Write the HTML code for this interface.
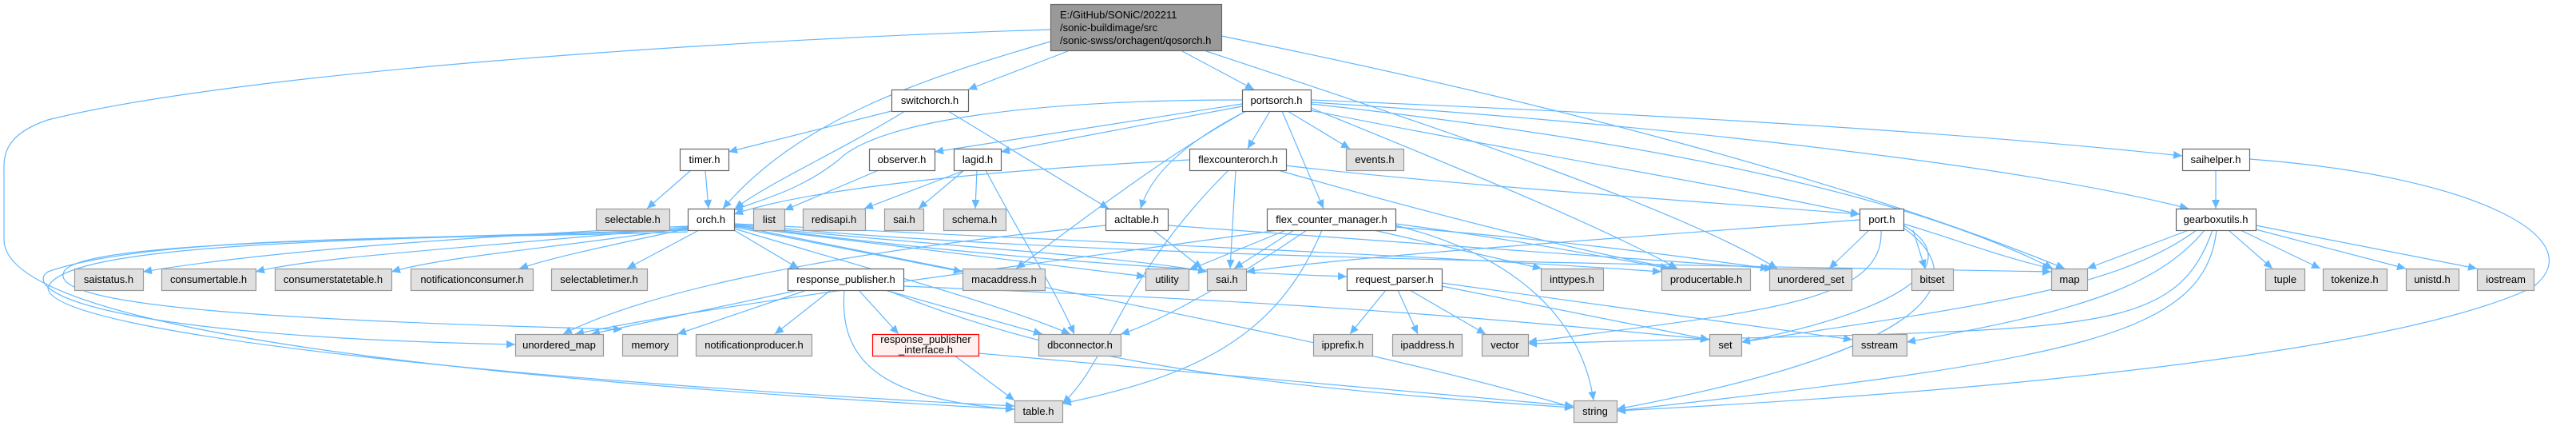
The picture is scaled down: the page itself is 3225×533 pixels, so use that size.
<!DOCTYPE html>
<html><head><meta charset="utf-8"><style>
html,body{margin:0;padding:0;background:#fff;}
svg{display:block;}
text{font-family:"Liberation Sans",sans-serif;font-size:13px;fill:#000;}
</style></head><body>
<svg width="3225" height="533" viewBox="0 0 3225 533" xmlns="http://www.w3.org/2000/svg">
<defs>
<marker id="a" markerWidth="12" markerHeight="10" refX="11" refY="5" orient="auto" markerUnits="userSpaceOnUse">
<path d="M0,0 L11,5 L0,10 z" fill="#63b8ff"/>
</marker>
</defs>
<g fill="none" stroke="#63b8ff" stroke-width="1.2" marker-end="url(#a)">
<!-- main -->
<path d="M1337,64 L1212,112"/>
<path d="M1480,64 L1570,112"/>
<path d="M1315,52 C1150,100 1000,150 905,261"/>
<path d="M1529,45 C1900,120 2300,220 2585,336"/>
<path d="M1510,64 C1800,160 2100,260 2225,336"/>
<path d="M1315,37 C900,50 300,90 60,150 C0,170 5,200 5,220 L5,300 C5,380 300,460 1270,512"/>
<!-- switchorch -->
<path d="M1116,139 L912,190"/>
<path d="M1133,139 C1050,190 960,230 920,261"/>
<path d="M1187,139 L1388,261"/>
<!-- portsorch -->
<path d="M1555,125 C1300,125 1100,150 1050,200 C1000,240 950,250 919,263"/>
<path d="M1555,130 L1170,190"/>
<path d="M1555,133 L1253,190"/>
<path d="M1590,139 L1562,186"/>
<path d="M1560,139 C1480,180 1440,220 1428,261"/>
<path d="M1560,139 C1450,200 1350,280 1272,336"/>
<path d="M1612,139 L1690,186"/>
<path d="M1605,139 L1657,261"/>
<path d="M1640,138 C1900,190 2150,230 2328,268"/>
<path d="M1641,125 C2000,140 2400,160 2732,195"/>
<path d="M1641,128 C2000,150 2500,200 2740,261"/>
<path d="M1641,130 C2100,180 2400,250 2570,336"/>
<path d="M1641,135 C1800,200 2000,280 2100,336"/>
<!-- timer/observer/lagid -->
<path d="M865,213 L810,261"/>
<path d="M883,213 L887,261"/>
<path d="M1100,213 L982,263"/>
<path d="M1208,213 L1082,261"/>
<path d="M1207,213 L1150,261"/>
<path d="M1223,213 L1221,261"/>
<path d="M1234,213 C1280,300 1320,360 1345,418"/>
<!-- flexcounterorch -->
<path d="M1489,200 C1200,215 1000,240 919,268"/>
<path d="M1538,213 C1400,350 1390,450 1330,505"/>
<path d="M1547,213 L1540,336"/>
<path d="M1609,207 C1800,230 2100,250 2328,268"/>
<path d="M1600,213 C1800,270 2000,320 2100,336"/>
<!-- acltable -->
<path d="M1384,282 C1000,320 800,370 705,418"/>
<path d="M1444,288 L1505,336"/>
<path d="M1462,282 C1700,300 2000,320 2220,336"/>
<!-- flex_counter_manager -->
<path d="M1620,288 L1545,336"/>
<path d="M1610,288 L1488,338"/>
<path d="M1636,288 C1500,380 1430,410 1403,418"/>
<path d="M1655,288 C1600,420 1500,470 1330,505"/>
<path d="M1720,288 L1930,336"/>
<path d="M1747,280 C1900,300 2000,320 2090,336"/>
<path d="M1747,284 C1950,300 2100,320 2215,336"/>
<path d="M1747,282 C1900,320 1980,400 1995,501"/>
<path d="M1600,288 C1300,330 900,380 720,418"/>
<!-- port -->
<path d="M2395,288 L2410,336"/>
<path d="M2340,288 L2290,336"/>
<path d="M2328,275 C2000,300 1700,320 1560,340"/>
<path d="M2355,288 C2360,380 2200,390 1913,428"/>
<path d="M2383,282 C2450,320 2420,380 2180,428"/>
<path d="M2383,285 C2460,340 2460,430 2024,512"/>
<path d="M2383,280 C2450,300 2500,320 2568,336"/>
<!-- gearboxutils / saihelper -->
<path d="M2774,213 L2774,261"/>
<path d="M2816,199 C3100,220 3250,300 3170,360 C3000,440 2500,490 2024,514"/>
<path d="M2740,288 L2613,336"/>
<path d="M2790,288 L2845,336"/>
<path d="M2805,288 L2905,336"/>
<path d="M2820,286 L3012,336"/>
<path d="M2824,282 L3101,336"/>
<path d="M2750,288 C2650,360 2500,380 2180,428"/>
<path d="M2760,288 C2700,360 2600,390 2387,428"/>
<path d="M2770,288 C2730,400 2650,410 2300,420 C2100,425 2000,428 1913,430"/>
<path d="M2775,288 C2760,420 2600,450 2024,514"/>
<!-- orch outgoing -->
<path d="M861,283 C500,300 300,320 179,340"/>
<path d="M861,284 C600,310 400,320 320,340"/>
<path d="M861,285 C700,310 560,320 490,340"/>
<path d="M861,286 C750,310 700,320 650,336"/>
<path d="M875,288 L785,336"/>
<path d="M919,288 L1000,336"/>
<path d="M919,284 L1205,340"/>
<path d="M919,283 L1434,346"/>
<path d="M919,282 C1200,310 1400,320 1511,340"/>
<path d="M919,281 C1200,320 1500,340 1686,346"/>
<path d="M919,280 C1300,320 2000,330 2568,340"/>
<path d="M919,280 C1300,300 1800,320 2080,340"/>
<path d="M919,286 C1100,340 1250,380 1340,418"/>
<path d="M861,290 C600,300 200,290 60,340 C30,360 100,420 645,431"/>
<path d="M861,287 C500,300 100,300 80,340 C60,380 300,400 779,412"/>
<path d="M861,288 C500,300 80,300 60,360 C60,420 700,480 1270,508"/>
<path d="M919,282 C1300,360 1700,430 1970,510"/>
<!-- response_publisher -->
<path d="M1000,363 L740,418"/>
<path d="M1010,363 L848,418"/>
<path d="M1040,363 L970,418"/>
<path d="M1075,363 L1125,418"/>
<path d="M1108,363 L1305,418"/>
<path d="M1057,363 C1050,450 1100,500 1270,512"/>
<path d="M1131,358 C1400,370 1700,380 2140,425"/>
<path d="M1110,363 C1300,440 1500,480 1970,510"/>
<!-- rpi -->
<path d="M1195,445 L1270,501"/>
<path d="M1225,442 L1970,508"/>
<!-- request_parser -->
<path d="M1735,363 L1690,418"/>
<path d="M1750,363 L1775,418"/>
<path d="M1765,363 L1860,418"/>
<path d="M1805,358 L2140,425"/>
<path d="M1805,354 L2319,425"/>
</g>
<g stroke-width="1.2">
<rect x="1315.5" y="5.5" width="214" height="58" fill="#999999" stroke="#666666"/>
</g>
<text x="1327" y="23">E:/GitHub/SONiC/202211</text>
<text x="1327" y="39">/sonic-buildimage/src</text>
<text x="1327" y="55">/sonic-swss/orchagent/qosorch.h</text>
<g stroke-width="1.2">
<!-- white nodes -->
<g fill="#ffffff" stroke="#666666">
<rect x="1116.5" y="112.5" width="96" height="27"/>
<rect x="1555.5" y="112.5" width="86" height="27"/>
<rect x="2732.5" y="186.5" width="84" height="27"/>
<rect x="851.5" y="186.5" width="61" height="27"/>
<rect x="1088.5" y="186.5" width="82" height="27"/>
<rect x="1194.5" y="186.5" width="59" height="27"/>
<rect x="1489.5" y="186.5" width="121" height="27"/>
<rect x="861.5" y="261.5" width="58" height="27"/>
<rect x="1384.5" y="261.5" width="78" height="27"/>
<rect x="1586.5" y="261.5" width="161" height="27"/>
<rect x="2328.5" y="261.5" width="55" height="27"/>
<rect x="2724.5" y="261.5" width="100" height="27"/>
<rect x="986.5" y="336.5" width="145" height="27"/>
<rect x="1686.5" y="336.5" width="119" height="27"/>
</g>
<rect x="1092.5" y="418.5" width="133" height="27" fill="#fff0f0" stroke="#ff0000"/>
<g fill="#e0e0e0" stroke="#999999">
<rect x="1685.5" y="186.5" width="72" height="27"/>
<rect x="746.5" y="261.5" width="92" height="27"/>
<rect x="943.5" y="261.5" width="39" height="27"/>
<rect x="1005.5" y="261.5" width="78" height="27"/>
<rect x="1107.5" y="261.5" width="49" height="27"/>
<rect x="1181.5" y="261.5" width="78" height="27"/>
<rect x="93.5" y="336.5" width="86" height="27"/>
<rect x="202.5" y="336.5" width="118" height="27"/>
<rect x="344.5" y="336.5" width="146" height="27"/>
<rect x="514.5" y="336.5" width="153" height="27"/>
<rect x="690.5" y="336.5" width="120" height="27"/>
<rect x="1205.5" y="336.5" width="103" height="27"/>
<rect x="1434.5" y="336.5" width="54" height="27"/>
<rect x="1511.5" y="336.5" width="49" height="27"/>
<rect x="1929.5" y="336.5" width="78" height="27"/>
<rect x="2080.5" y="336.5" width="111" height="27"/>
<rect x="2215.5" y="336.5" width="103" height="27"/>
<rect x="2393.5" y="336.5" width="52" height="27"/>
<rect x="2568.5" y="336.5" width="45" height="27"/>
<rect x="2836.5" y="336.5" width="49" height="27"/>
<rect x="2908.5" y="336.5" width="80" height="27"/>
<rect x="3012.5" y="336.5" width="66" height="27"/>
<rect x="3101.5" y="336.5" width="71" height="27"/>
<rect x="645.5" y="418.5" width="110" height="27"/>
<rect x="779.5" y="418.5" width="69" height="27"/>
<rect x="871.5" y="418.5" width="145" height="27"/>
<rect x="1300.5" y="418.5" width="103" height="27"/>
<rect x="1644.5" y="418.5" width="74" height="27"/>
<rect x="1743.5" y="418.5" width="87" height="27"/>
<rect x="1855.5" y="418.5" width="58" height="27"/>
<rect x="2140.5" y="418.5" width="40" height="27"/>
<rect x="2319.5" y="418.5" width="68" height="27"/>
<rect x="1270.5" y="501.5" width="60" height="27"/>
<rect x="1970.5" y="501.5" width="54" height="27"/>
</g>
</g>
<g text-anchor="middle">
<text x="1164" y="130">switchorch.h</text>
<text x="1598" y="130">portsorch.h</text>
<text x="2774" y="204">saihelper.h</text>
<text x="882" y="204">timer.h</text>
<text x="1129" y="204">observer.h</text>
<text x="1224" y="204">lagid.h</text>
<text x="1550" y="204">flexcounterorch.h</text>
<text x="1721" y="204">events.h</text>
<text x="792" y="279">selectable.h</text>
<text x="890" y="279">orch.h</text>
<text x="963" y="279">list</text>
<text x="1044" y="279">redisapi.h</text>
<text x="1132" y="279">sai.h</text>
<text x="1220" y="279">schema.h</text>
<text x="1423" y="279">acltable.h</text>
<text x="1667" y="279">flex_counter_manager.h</text>
<text x="2356" y="279">port.h</text>
<text x="2774" y="279">gearboxutils.h</text>
<text x="136" y="354">saistatus.h</text>
<text x="261" y="354">consumertable.h</text>
<text x="417" y="354">consumerstatetable.h</text>
<text x="591" y="354">notificationconsumer.h</text>
<text x="750" y="354">selectabletimer.h</text>
<text x="1059" y="354">response_publisher.h</text>
<text x="1257" y="354">macaddress.h</text>
<text x="1461" y="354">utility</text>
<text x="1536" y="354">sai.h</text>
<text x="1746" y="354">request_parser.h</text>
<text x="1968" y="354">inttypes.h</text>
<text x="2136" y="354">producertable.h</text>
<text x="2267" y="354">unordered_set</text>
<text x="2419" y="354">bitset</text>
<text x="2591" y="354">map</text>
<text x="2861" y="354">tuple</text>
<text x="2948" y="354">tokenize.h</text>
<text x="3045" y="354">unistd.h</text>
<text x="3137" y="354">iostream</text>
<text x="700" y="436">unordered_map</text>
<text x="814" y="436">memory</text>
<text x="944" y="436">notificationproducer.h</text>
<text x="1159" y="429">response_publisher</text>
<text x="1159" y="442">_interface.h</text>
<text x="1352" y="436">dbconnector.h</text>
<text x="1681" y="436">ipprefix.h</text>
<text x="1787" y="436">ipaddress.h</text>
<text x="1884" y="436">vector</text>
<text x="2160" y="436">set</text>
<text x="2353" y="436">sstream</text>
<text x="1300" y="519">table.h</text>
<text x="1997" y="519">string</text>
</g>
</svg>
</body></html>
